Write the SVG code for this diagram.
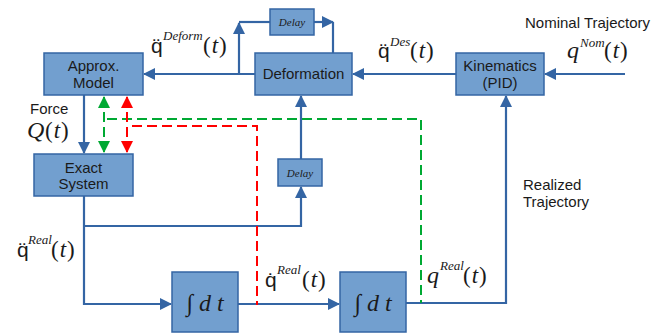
<svg xmlns="http://www.w3.org/2000/svg" width="667" height="334" viewBox="0 0 667 334">
  <defs>
    <marker id="ab" markerUnits="userSpaceOnUse" markerWidth="12" markerHeight="12" viewBox="0 0 12 12" refX="11" refY="6" orient="auto">
      <path d="M0,0 L12,6 L0,12 Z" fill="#3465a4"/>
    </marker>
    <marker id="ag" markerUnits="userSpaceOnUse" markerWidth="12" markerHeight="12" viewBox="0 0 12 12" refX="11" refY="6" orient="auto-start-reverse">
      <path d="M0,0 L12,6 L0,12 Z" fill="#00a933"/>
    </marker>
    <marker id="ar" markerUnits="userSpaceOnUse" markerWidth="12" markerHeight="12" viewBox="0 0 12 12" refX="11" refY="6" orient="auto-start-reverse">
      <path d="M0,0 L12,6 L0,12 Z" fill="#ff0000"/>
    </marker>
  </defs>
  <style>
    .box { fill: #729fcf; stroke: #3465a4; stroke-width: 1.5; }
    .lbl { font-family: "Liberation Sans", Arial, sans-serif; font-size: 15px; fill: #1a1a1a; text-anchor: middle; }
    .txt { font-family: "Liberation Sans", Arial, sans-serif; font-size: 15px; fill: #1a1a1a; }
    .dly { font-family: "Liberation Serif", "Times New Roman", serif; font-style: italic; font-size: 11px; fill: #1a1a1a; text-anchor: middle; }
    .m { font-family: "Liberation Serif", "Times New Roman", serif; font-style: italic; font-size: 24px; fill: #1a1a1a; }
    .mq { font-family: "Liberation Sans", Arial, sans-serif; font-size: 21px; fill: #1a1a1a; }
    .sup { font-family: "Liberation Serif", "Times New Roman", serif; font-style: italic; font-size: 13px; fill: #1a1a1a; }
    .par { font-family: "Liberation Serif", "Times New Roman", serif; font-size: 23px; fill: #1a1a1a; }
    .w { fill: none; stroke: #3465a4; stroke-width: 2.2; }
    .g { fill: none; stroke: #00a933; stroke-width: 2; stroke-dasharray: 10 5; }
    .r { fill: none; stroke: #ff0000; stroke-width: 2; stroke-dasharray: 10 5; }
  </style>

  <!-- connectors -->
  <g id="connectors">
    <!-- nominal trajectory into kinematics -->
    <path class="w" d="M625,74 H545" marker-end="url(#ab)"/>
    <!-- kinematics to deformation -->
    <path class="w" d="M456,74 H353" marker-end="url(#ab)"/>
    <!-- deformation to approx. model -->
    <path class="w" d="M255,74 H144" marker-end="url(#ab)"/>
    <!-- branch up to upper delay -->
    <path class="w" d="M239,74 V23"  marker-end="url(#ab)"/>
    <path class="w" d="M239,22 H270"/>
    <!-- upper delay back to deformation -->
    <path class="w" d="M314,22 H333" marker-end="url(#ab)"/>
    <path class="w" d="M333,22 V53"/>
    <!-- approx. model force to exact system -->
    <path class="w" d="M84,95 V153" marker-end="url(#ab)"/>
    <!-- exact system output -->
    <path class="w" d="M84,196 V304 H171" marker-end="url(#ab)"/>
    <path class="w" d="M84,226 H301 V187" marker-end="url(#ab)"/>
    <!-- lower delay to deformation -->
    <path class="w" d="M301,159 V96" marker-end="url(#ab)"/>
    <!-- integrator chain -->
    <path class="w" d="M238,304 H339" marker-end="url(#ab)"/>
    <path class="w" d="M406,303 H506 V96" marker-end="url(#ab)"/>
    <!-- velocity / position feedback (dashed) -->
    <path class="g" d="M104,97 V152" marker-start="url(#ag)" marker-end="url(#ag)"/>
    <path class="g" d="M107,119 H421 V303"/>
    <path class="r" d="M127,97 V152" marker-start="url(#ar)" marker-end="url(#ar)"/>
    <path class="r" d="M132,126 H257 V305"/>
  </g>

  <!-- blocks -->
  <g id="approx-model">
    <rect class="box" x="44" y="53" width="99" height="42"/>
    <text class="lbl" x="93.5" y="71">Approx.</text>
    <text class="lbl" x="93.5" y="88">Model</text>
  </g>
  <g id="deformation">
    <rect class="box" x="255" y="53" width="97" height="42"/>
    <text class="lbl" x="303.5" y="79">Deformation</text>
  </g>
  <g id="kinematics">
    <rect class="box" x="456" y="53" width="88" height="42"/>
    <text class="lbl" x="500" y="71">Kinematics</text>
    <text class="lbl" x="500" y="88">(PID)</text>
  </g>
  <g id="delay-top">
    <rect class="box" x="270" y="9" width="44" height="26"/>
    <text class="dly" x="292" y="26">Delay</text>
  </g>
  <g id="delay-bottom">
    <rect class="box" x="278" y="159" width="44" height="27"/>
    <text class="dly" x="300" y="177">Delay</text>
  </g>
  <g id="exact-system">
    <rect class="box" x="34" y="154" width="99" height="42"/>
    <text class="lbl" x="83.5" y="173">Exact</text>
    <text class="lbl" x="83.5" y="189">System</text>
  </g>
  <g id="integrator-1">
    <rect class="box" x="172" y="272" width="66" height="60"/>
    <text class="m" x="205" y="311" text-anchor="middle">∫ <tspan>d</tspan> <tspan>t</tspan></text>
  </g>
  <g id="integrator-2">
    <rect class="box" x="340" y="272" width="66" height="60"/>
    <text class="m" x="373" y="311" text-anchor="middle">∫ <tspan>d</tspan> <tspan>t</tspan></text>
  </g>

  <!-- signal labels -->
  <g id="labels">
    <text class="txt" x="525" y="28">Nominal Trajectory</text>
    <text class="txt" x="523" y="190">Realized</text>
    <text class="txt" x="523" y="207">Trajectory</text>
    <text class="txt" x="30" y="114">Force</text>

    <text class="m" x="27" y="138">Q</text>
    <text class="par" x="45" y="138" letter-spacing="1">(<tspan font-style="italic">t</tspan>)</text>

    <text class="m" x="567" y="58">q</text>
    <text class="sup" x="580" y="47">Nom</text>
    <text class="par" x="604" y="58" letter-spacing="1">(<tspan font-style="italic">t</tspan>)</text>

    <text class="mq" x="378" y="58">q̈</text>
    <text class="sup" x="390" y="46">Des</text>
    <text class="par" x="410" y="58" letter-spacing="1">(<tspan font-style="italic">t</tspan>)</text>

    <text class="mq" x="151" y="53">q̈</text>
    <text class="sup" x="163" y="40">Deform</text>
    <text class="par" x="203" y="53" letter-spacing="1">(<tspan font-style="italic">t</tspan>)</text>

    <text class="mq" x="17" y="257">q̈</text>
    <text class="sup" x="28" y="244">Real</text>
    <text class="par" x="51" y="257" letter-spacing="1">(<tspan font-style="italic">t</tspan>)</text>

    <text class="mq" x="265" y="287">q̇</text>
    <text class="sup" x="277" y="274">Real</text>
    <text class="par" x="302" y="287" letter-spacing="1">(<tspan font-style="italic">t</tspan>)</text>

    <text class="m" x="427" y="283">q</text>
    <text class="sup" x="440" y="270">Real</text>
    <text class="par" x="463" y="283" letter-spacing="1">(<tspan font-style="italic">t</tspan>)</text>
  </g>
</svg>
